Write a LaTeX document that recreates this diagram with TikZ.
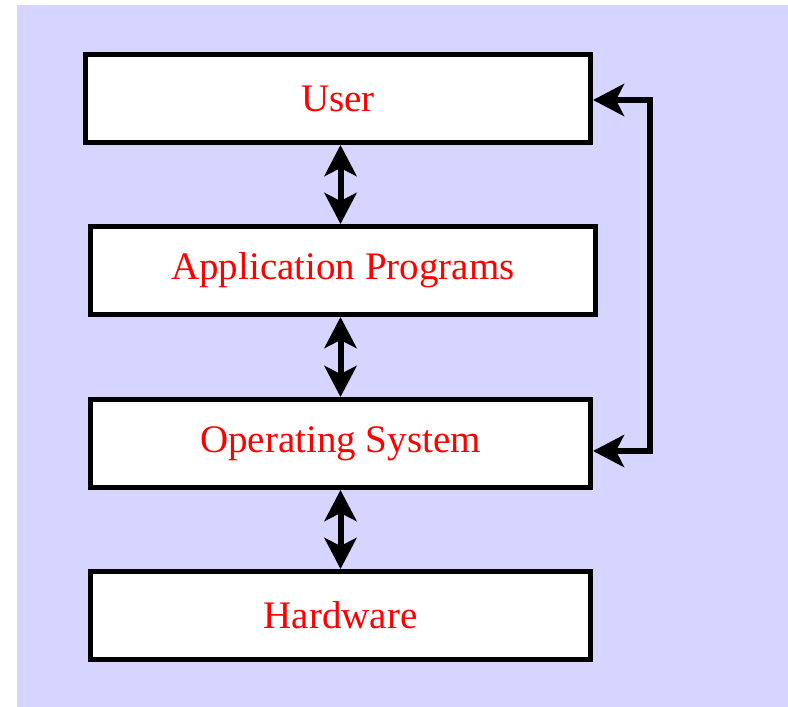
\documentclass[tikz,border=0pt]{standalone}
\usepackage{fontspec}
\setmainfont{Liberation Serif}
\usetikzlibrary{arrows.meta}
\definecolor{bgpanel}{RGB}{213,213,255}
\definecolor{labelred}{RGB}{255,0,0}
\begin{document}
\begin{tikzpicture}[x=1pt,y=-1pt,
  >={Stealth[length=31pt,width=32pt,inset=8pt]},
  layer/.style={draw=black, line width=5pt, fill=white, rectangle,
    minimum height=88pt, inner sep=0pt, text=labelred,
    font=\fontsize{39}{44}\selectfont},
  link/.style={line width=6pt, line join=miter, <->}
]
  \useasboundingbox (0,0) rectangle (788,707);
  \fill[bgpanel] (17,5) rectangle (788,707);

  \node[layer, minimum width=505pt] (user) at (338,98.5) {User};
  \node[layer, minimum width=505pt] (apps) at (343,270.5) {Application Programs};
  \node[layer, minimum width=500pt] (os)   at (340.5,443.5) {Operating System};
  \node[layer, minimum width=500pt] (hw)   at (340.5,615.5) {Hardware};

  \draw[link] (user.south -| os) -- (apps.north -| os);
  \draw[link] (apps.south -| os) -- (os.north -| os);
  \draw[link] (os.south -| os) -- (hw.north -| os);

  \coordinate (rtop) at (650,100);
  \coordinate (rbot) at (650,451);
  \draw[link] (user.east |- rtop) -- (rtop) -- (rbot) -- (os.east |- rbot);
\end{tikzpicture}
\end{document}
